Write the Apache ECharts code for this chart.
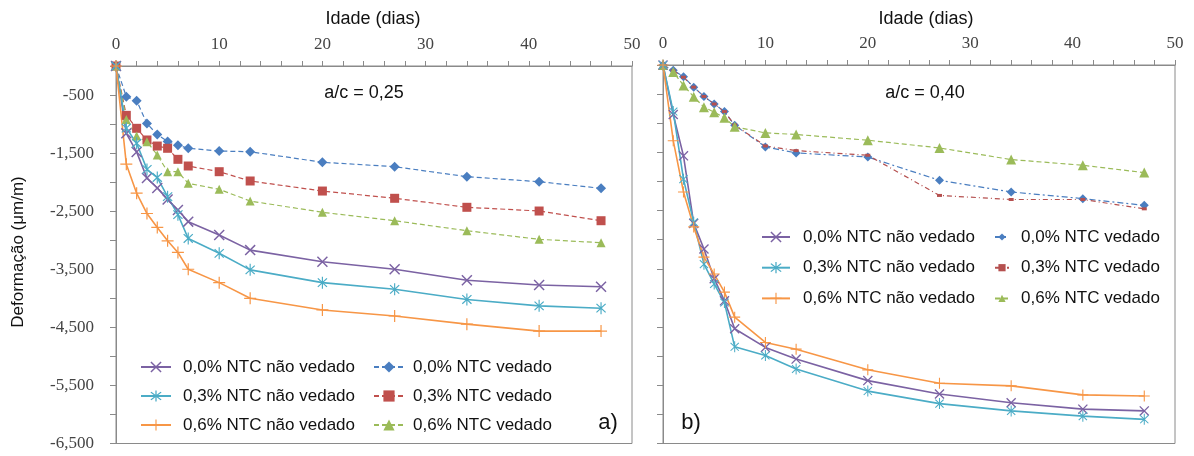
<!DOCTYPE html>
<html><head><meta charset="utf-8">
<script src="https://cdn.jsdelivr.net/npm/echarts@6/dist/echarts.min.js"></script>
<style>html,body{margin:0;padding:0;background:#fff}#c{width:1194px;height:456px}</style>
</head><body><div id="c"></div>
<script>
// Age (days)
const days = [0,1,2,3,4,5,6,7,10,13,20,27,34,41,47];
// a/c = 0,25
const a_nv00 = [0,-1160,-1480,-1930,-2100,-2300,-2480,-2680,-2910,-3170,-3370,-3500,-3690,-3770,-3800];
const a_nv03 = [0,-1070,-1330,-1780,-1920,-2250,-2560,-2970,-3225,-3510,-3730,-3845,-4020,-4130,-4170];
const a_nv06 = [0,-1690,-2190,-2540,-2780,-3010,-3210,-3500,-3730,-4000,-4200,-4305,-4445,-4565,-4565];
const a_v00  = [0,-529,-598,-990,-1180,-1300,-1365,-1417,-1464,-1476,-1658,-1734,-1906,-1992,-2106];
const a_v03  = [0,-850,-1073,-1274,-1378,-1417,-1607,-1722,-1820,-1980,-2153,-2278,-2433,-2497,-2664];
const a_v06  = [0,-920,-1205,-1303,-1532,-1820,-1820,-2020,-2123,-2325,-2519,-2664,-2836,-2984,-3043];
// a/c = 0,40
const b_nv00 = [0,-850,-1560,-2720,-3160,-3670,-4050,-4530,-4850,-5050,-5420,-5650,-5800,-5910,-5940];
const b_nv03 = [0,-800,-1960,-2700,-3420,-3760,-4080,-4840,-4990,-5220,-5600,-5815,-5940,-6030,-6085];
const b_nv06 = [0,-1300,-2180,-2780,-3300,-3590,-3900,-4330,-4765,-4880,-5235,-5465,-5510,-5665,-5685];
const b_v00  = [0,-90,-200,-380,-540,-670,-800,-1033,-1407,-1510,-1580,-1980,-2180,-2295,-2410];
const b_v03  = [0,-100,-210,-380,-540,-670,-800,-1030,-1390,-1470,-1550,-2240,-2310,-2310,-2470];
const b_v06  = [0,-120,-350,-546,-725,-810,-905,-1060,-1166,-1193,-1292,-1424,-1624,-1722,-1848];

const names = ['0,0% NTC não vedado','0,3% NTC não vedado','0,6% NTC não vedado','0,0% NTC vedado','0,3% NTC vedado','0,6% NTC vedado'];
const xTicks = [0,10,20,30,40,50];

const C = {purple:'#7b62a3', cyan:'#4bacc6', orange:'#f79646', blue:'#4a7ec0', red:'#c0504d', green:'#9bbb59'};
const SX = 'path://M-8,-6.5L-6.5,-8L8,6.5L6.5,8Z M6.5,-8L8,-6.5L-6.5,8L-8,6.5Z';
const SAST = 'path://M-7,-5.8L-5.8,-7L7,5.8L5.8,7Z M5.8,-7L7,-5.8L-5.8,7L-7,5.8Z M-0.8,-9L0.8,-9L0.8,9L-0.8,9Z';
const SPLUS = 'path://M-0.8,-8L0.8,-8L0.8,8L-0.8,8Z M-8,-0.8L8,-0.8L8,0.8L-8,0.8Z';

function pts(arr){ return days.map((d,i)=>[d,arr[i]]); }
function ser(name, idx, arr, color, symbol, size, dash, width){
  return {name:name, type:'line', xAxisIndex:idx, yAxisIndex:idx, data:pts(arr),
    symbol:symbol, symbolSize:size, showSymbol:true,
    lineStyle:{color:color, width:width||1.5, type:dash||'solid'},
    itemStyle:{color:color}, emphasis:{disabled:true}, animation:false};
}
const grey = '#8a8a8a';
const tickFont = {fontFamily:'Liberation Serif', fontSize:17, color:'#444'};
function xAx(idx){
  return {gridIndex:idx, type:'value', position:'top', min:xTicks[0], max:xTicks[xTicks.length-1], interval:10,
    axisLine:{show:true, lineStyle:{color:grey, width:1}},
    axisTick:{show:true, length:5, lineStyle:{color:grey}},
    minorTick:{show:true, splitNumber:5, length:5, lineStyle:{color:grey}},
    splitLine:{show:false}, minorSplitLine:{show:false},
    axisLabel:Object.assign({margin:13}, tickFont)};
}
function yAx(idx, labels){
  return {gridIndex:idx, type:'value', min:-6500, max:0, interval:500,
    axisLine:{show:true, lineStyle:{color:grey, width:1}},
    axisTick:{show:true, length:6, lineStyle:{color:grey}},
    splitLine:{show:false},
    axisLabel:Object.assign({show:labels, margin:22,
      formatter:v=> (v % 1000 !== 0) ? v.toLocaleString('en-US') : ''}, tickFont)};
}
const legText = {fontFamily:'Liberation Sans', fontSize:17, color:'#111', lineHeight:20};
function leg(list, left, top, iw, ih, gap, pad){
  return {data:list, orient:'vertical', left:left, top:top, itemWidth:iw, itemHeight:ih, itemGap:gap,
    selectedMode:false, formatter:n=>n.slice(2),
    textStyle:Object.assign({padding:[0,0,0,pad]}, legText)};
}
const A = n=>'A:'+n, B = n=>'B:'+n;

const option = {
  backgroundColor:'#fff',
  animation:false,
  grid:[
    {left:116, top:66, width:516, height:377.5, show:true, borderColor:grey, borderWidth:1, backgroundColor:'transparent'},
    {left:663, top:65, width:512, height:378.5, show:true, borderColor:grey, borderWidth:1, backgroundColor:'transparent'}
  ],
  xAxis:[xAx(0), xAx(1)],
  yAxis:[yAx(0,true), yAx(1,false)],
  legend:[
    leg([A(names[0]),A(names[1]),A(names[2])], 135, 352, 30, 14, 9, 7),
    leg([A(names[3]),A(names[4]),A(names[5])], 368, 352, 30, 14, 9, 4),
    leg([B(names[0]),B(names[1]),B(names[2])], 756, 222, 28, 14, 10.7, 8),
    leg([B(names[3]),B(names[4]),B(names[5])], 989, 222, 14, 9, 10.7, 7)
  ],
  series:[
    ser(A(names[3]),0,a_v00,C.blue,'diamond',10,[5,3],1.2),
    ser(A(names[4]),0,a_v03,C.red,'rect',9,[5,3],1.2),
    ser(A(names[5]),0,a_v06,C.green,'triangle',9,[5,3],1.2),
    ser(A(names[0]),0,a_nv00,C.purple,SX,11,'solid',1.6),
    ser(A(names[1]),0,a_nv03,C.cyan,SAST,[10,12],'solid',1.6),
    ser(A(names[2]),0,a_nv06,C.orange,SPLUS,12,'solid',1.6),
    ser(B(names[3]),1,b_v00,C.blue,'diamond',9,[6,3,2,3],1.2),
    ser(B(names[4]),1,b_v03,'#b5504f','rect',[5,3],[5,3,1,3],1.2),
    ser(B(names[5]),1,b_v06,C.green,'triangle',10,[5,3],1.2),
    ser(B(names[0]),1,b_nv00,C.purple,SX,10,'solid',1.6),
    ser(B(names[1]),1,b_nv03,C.cyan,SAST,[9,11],'solid',1.6),
    ser(B(names[2]),1,b_nv06,C.orange,SPLUS,11,'solid',1.6)
  ],
  graphic:[
    {type:'text', x:373, y:19, style:{text:'Idade (dias)', font:'18px "Liberation Sans"', fill:'#111', textAlign:'center', textVerticalAlign:'middle'}},
    {type:'text', x:926, y:19, style:{text:'Idade (dias)', font:'18px "Liberation Sans"', fill:'#111', textAlign:'center', textVerticalAlign:'middle'}},
    {type:'text', x:364, y:93, style:{text:'a/c = 0,25', font:'18px "Liberation Sans"', fill:'#111', textAlign:'center', textVerticalAlign:'middle'}},
    {type:'text', x:925, y:93, style:{text:'a/c = 0,40', font:'18px "Liberation Sans"', fill:'#111', textAlign:'center', textVerticalAlign:'middle'}},
    {type:'text', x:608, y:423, style:{text:'a)', font:'22px "Liberation Sans"', fill:'#111', textAlign:'center', textVerticalAlign:'middle'}},
    {type:'text', x:691, y:423, style:{text:'b)', font:'22px "Liberation Sans"', fill:'#111', textAlign:'center', textVerticalAlign:'middle'}},
    {type:'text', x:18, y:252, rotation:Math.PI/2, style:{text:'Deformação (μm/m)', font:'17px "Liberation Sans"', fill:'#111', textAlign:'center', textVerticalAlign:'middle'}}
  ]
};
echarts.init(document.getElementById('c'), null, {renderer:'canvas'}).setOption(option);
</script></body></html>
